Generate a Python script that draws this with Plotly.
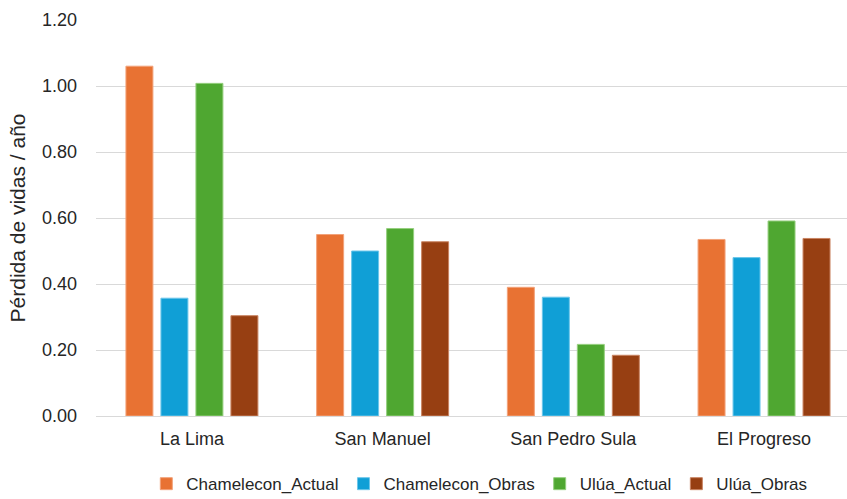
import plotly.graph_objects as go

categories = ["La Lima", "San Manuel", "San Pedro Sula", "El Progreso"]
chamelecon_actual = [1.06, 0.55, 0.39, 0.535]
chamelecon_obras = [0.357, 0.50, 0.36, 0.48]
ulua_actual = [1.008, 0.568, 0.217, 0.591]
ulua_obras = [0.304, 0.528, 0.184, 0.538]
series_names = ["Chamelecon_Actual", "Chamelecon_Obras", "Ulúa_Actual", "Ulúa_Obras"]
y_ticks = [0.0, 0.2, 0.4, 0.6, 0.8, 1.0, 1.2]

colors = ["#E87233", "#109FD6", "#4FA731", "#973F12"]
edge = ["#F2A27A", "#6CC6EA", "#95CF7E", "#C98462"]

fig = go.Figure()
for name, vals, c, e in zip(series_names,
                            [chamelecon_actual, chamelecon_obras, ulua_actual, ulua_obras],
                            colors, edge):
    fig.add_trace(go.Bar(x=categories, y=vals, name=name,
                         marker=dict(color=c, line=dict(color=e, width=1))))

fam = "Liberation Sans, Arial, sans-serif"
fig.update_layout(
    width=847, height=499,
    margin=dict(l=96, r=0, t=20, b=83, autoexpand=False),
    paper_bgcolor="white", plot_bgcolor="white",
    barmode="group", bargap=0.266, bargroupgap=0.229,
    font=dict(family=fam, color="#262626"),
    xaxis=dict(range=[-0.503, 3.435], showgrid=False, showline=False, ticks="",
               ticklabelstandoff=10,
               tickfont=dict(size=18, color="#262626")),
    yaxis=dict(range=[0, 1.2], tickvals=y_ticks, tickformat=".2f",
               showgrid=True, gridcolor="#D9D9D9", gridwidth=1.3,
               zeroline=True, zerolinecolor="#D9D9D9", zerolinewidth=1.3,
               showline=False, ticks="", ticklabelstandoff=18,
               tickfont=dict(size=18, color="#262626"),
               title=dict(text="Pérdida de vidas / año", font=dict(size=21, color="#262626"),
                          standoff=10)),
    legend=dict(orientation="h", x=0.067, xanchor="left", y=-0.172, yanchor="middle",
                font=dict(size=17, color="#262626"),
                itemwidth=30, tracegroupgap=0),
    showlegend=True,
)

fig.write_html("out.html")
